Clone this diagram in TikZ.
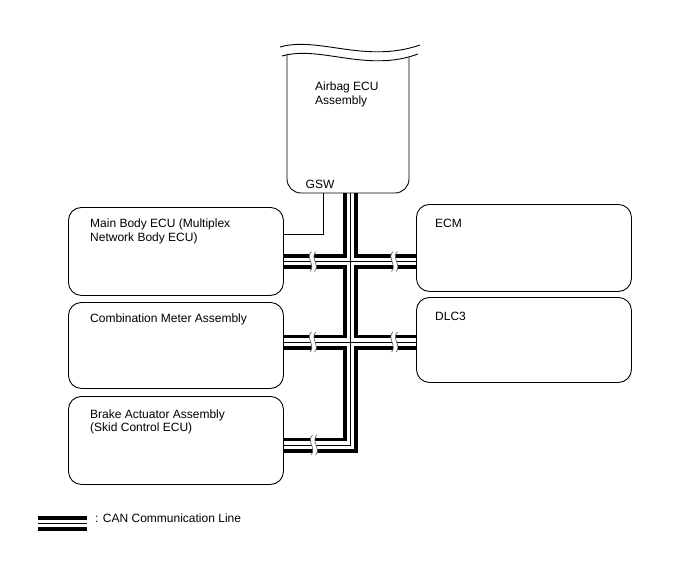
\documentclass[tikz,border=0pt]{standalone}
\usepackage{fontspec}
\setmainfont{Liberation Sans}
\pgfdeclarelayer{bg}
\pgfsetlayers{bg,main}
\newcommand\brkmark[2]{%
  \fill[white] (#1+1.5,#2-10) .. controls (#1-5,#2-4) and (#1+6,#2+4) .. (#1,#2+10) -- (#1+4.5,#2+10) .. controls (#1+10.5,#2+4) and (#1-0.5,#2-4) .. (#1+6,#2-10) -- cycle;
  \draw[brkline] (#1+1.5,#2-10) .. controls (#1-5,#2-4) and (#1+6,#2+4) .. (#1,#2+10);
  \draw[brkline] (#1+6,#2-10) .. controls (#1-0.5,#2-4) and (#1+10.5,#2+4) .. (#1+4.5,#2+10);}
\begin{document}
\begin{tikzpicture}[x=1pt,y=-1pt,
  ecubox/.style={draw, line width=0.9pt, rounded corners=13pt, inner sep=0pt, anchor=north west},
  lbl/.style={anchor=base west, inner sep=0pt, font=\fontsize{12}{13.5}\selectfont, align=left},
  bus/.style={line width=15pt, line join=miter, postaction={draw, white, line width=7.6pt, line join=miter}, postaction={draw, black, line width=0.9pt, line join=miter}},
  brkline/.style={draw=black!65, line width=0.6pt},
  thin/.style={line width=0.9pt}]
\useasboundingbox (0,0) rectangle (688,560);

% boxes
\node[ecubox, minimum width=215pt, minimum height=88pt] (mb) at (68,207) {};
\node[ecubox, minimum width=215pt, minimum height=86pt] (cm) at (68,302) {};
\node[ecubox, minimum width=215pt, minimum height=88pt] (ba) at (68,396) {};
\node[ecubox, minimum width=215pt, minimum height=87pt] (ecm) at (416,204) {};
\node[ecubox, minimum width=215pt, minimum height=85pt] (dlc) at (416,297) {};

% airbag ECU (cut-off box)
\draw[thin, rounded corners=14pt] (287,54) -- (287,193) -- (409,193) -- (409,57.4);
\draw[thin] (280,47) .. controls (318,36) and (365,64) .. (420,45);
\draw[thin] (282,56) .. controls (320,45) and (367,73) .. (418,54);
\coordinate (abot) at (350.5,193);
\coordinate (gsw) at (323,193);

% texts (multi-line nodes: base = last line)
\node[lbl] (tab) at (315,104.2) {Airbag ECU\\Assembly};
\node[lbl] (tgsw) at (305.5,188.5) {GSW};
\node[lbl] (tmb) at (90,241) {Main Body ECU (Multiplex\\Network Body ECU)};
\node[lbl] (tcm) at (90,322) {Combination Meter Assembly};
\node[lbl] (tba) at (90,431.5) {Brake Actuator Assembly\\(Skid Control ECU)};
\node[lbl] (tecm) at (435,227.3) {ECM};
\node[lbl] (tdlc) at (435,320.5) {DLC3};

% junction coordinates
\coordinate (j1) at (350.5,261.5);
\coordinate (j2) at (350.5,342);
\coordinate (j3) at (350.5,445);

% GSW line
\draw[thin] (gsw) |- (mb.east |- 0,234);

% CAN bus
\begin{pgfonlayer}{bg}
\draw[bus] (abot) -- (j3) -- (j3 -| ba.east)
  (j1 -| mb.east) -- (j1 -| ecm.west)
  (j2 -| cm.east) -- (j2 -| dlc.west);
\coordinate (lg1) at (38,523.5);
\coordinate (lg2) at (87,523.5);
\draw[bus] (lg1) -- (lg2);
\end{pgfonlayer}
\node[lbl] (tlg) at (95,522) {: CAN Communication Line};

% breaks
\brkmark{310}{261.5}
\brkmark{391.5}{261.5}
\brkmark{310}{342}
\brkmark{391.5}{342}
\brkmark{311}{445}
\end{tikzpicture}
\end{document}
